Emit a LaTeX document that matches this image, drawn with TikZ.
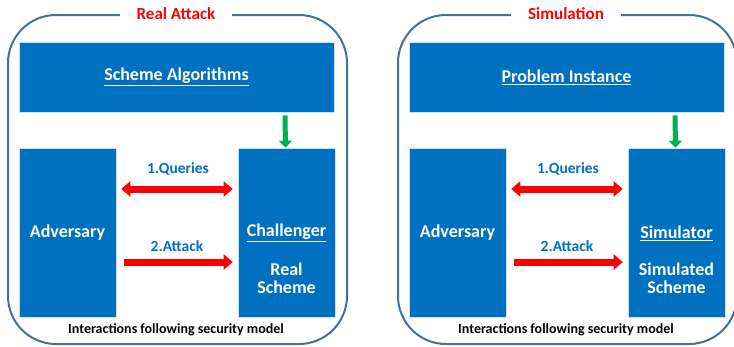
\documentclass[tikz,border=0pt]{standalone}
\usepackage{fontspec}
\setmainfont{Carlito}
\usetikzlibrary{arrows.meta,calc}
\definecolor{boxblue}{HTML}{0070C0}
\definecolor{frameblue}{HTML}{41719C}
\definecolor{arrowred}{HTML}{FF0000}
\definecolor{arrowgreen}{HTML}{00B050}
\newcommand{\ul}[1]{\underline{#1}}
\tikzset{
  panel/.style={draw=frameblue, line width=2pt, rounded corners=48pt},
  paneltitle/.style={fill=white, text=arrowred, font=\bfseries\fontsize{17}{20}\selectfont, inner xsep=17pt, inner ysep=2pt},
  bluebox/.style={fill=boxblue, draw=white!80!boxblue, line width=0.6pt, text=white, font=\bfseries\fontsize{18}{21}\selectfont, align=center, inner sep=0pt},
  arrowlabel/.style={text=boxblue, font=\bfseries\fontsize{15.5}{18}\selectfont},
  footnote/.style={text=black, font=\bfseries\fontsize{14}{16}\selectfont},
  fatarrow/.style={draw=arrowred, line width=7pt, arrows={-Triangle[width=15pt,length=9pt]}},
  fatboth/.style={draw=arrowred, line width=7pt, arrows={Triangle[width=15pt,length=9pt]-Triangle[width=15pt,length=9pt]}},
  greenarrow/.style={draw=arrowgreen, line width=5pt, arrows={-Triangle[width=13pt,length=7pt]}},
}
% one panel: frame, title, three boxes, arrows, footnote
\newcommand{\drawpanel}[6]{%
  \begin{scope}[xshift=#1pt]
    \draw[panel] (8,15) rectangle (347,344);
    \node[paneltitle] (#2title) at (176,14) {#3};
    \node[bluebox, minimum width=315pt, minimum height=70pt] (#2top) at (176.5,77) {\ul{#4}};
    \node[bluebox, minimum width=97pt, minimum height=169pt] (#2adv) at (67.5,232.5) {Adversary};
    \node[bluebox, minimum width=97pt, minimum height=169pt] (#2ch) at (286.5,232.5) {};
    \node[text=white, font=\bfseries\fontsize{18}{21}\selectfont] (#2chname) at (286.5,233) {\ul{#5}};
    \node[text=white, font=\bfseries\fontsize{18}{18}\selectfont, align=center] (#2chsub) at (286.5,278) {#6};
    \draw[greenarrow] ($(#2top.south)+(108.5,3)$) -- ($(#2ch.north)+(-1,0)$);
    \draw[fatboth, shorten <=5pt, shorten >=5pt] (#2adv.east |- 0,189) -- (#2ch.west |- 0,189);
    \draw[fatarrow, shorten <=8pt, shorten >=5pt] (#2adv.east |- 0,262) -- (#2ch.west |- 0,262);
    \node[arrowlabel] (#2q) at (178,169) {1.Queries};
    \node[arrowlabel] (#2a) at (177,246) {2.Attack};
    \node[footnote] (#2foot) at (176,330) {Interactions following security model};
  \end{scope}}
\begin{document}
\begin{tikzpicture}[x=1pt, y=-1pt]
\useasboundingbox (0,0) rectangle (734,346);
\clip (0,0) rectangle (734,346);
\drawpanel{0}{L}{Real Attack}{Scheme Algorithms}{Challenger}{Real\\Scheme}
\drawpanel{390}{R}{Simulation}{Problem Instance}{Simulator}{Simulated\\Scheme}
\end{tikzpicture}
\end{document}
